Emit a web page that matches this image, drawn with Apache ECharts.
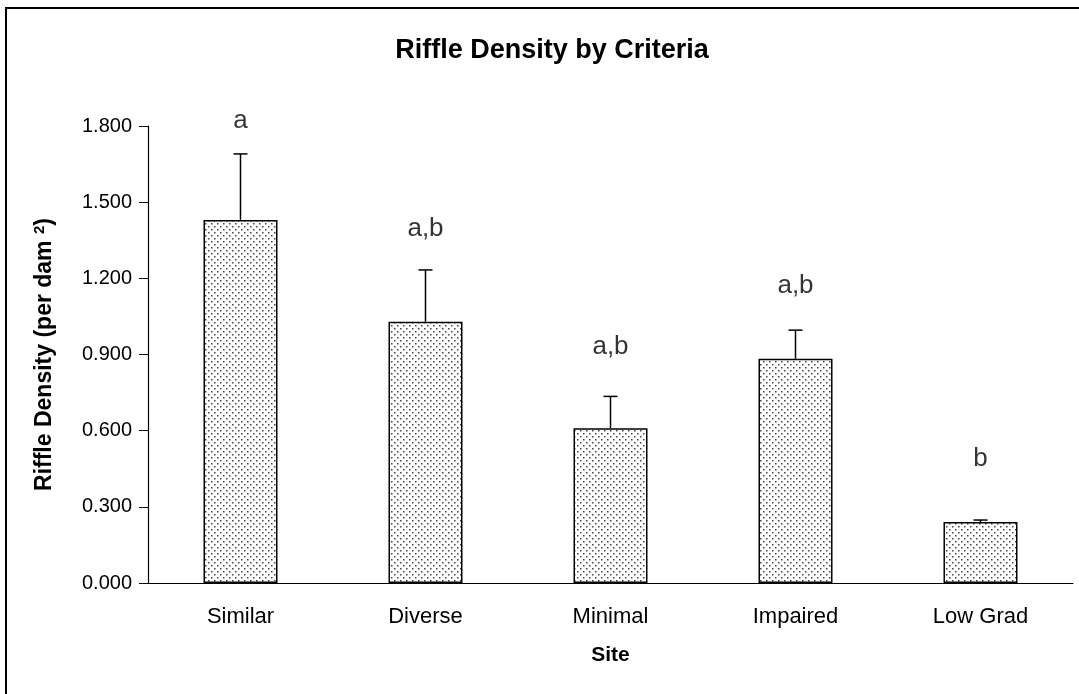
<!DOCTYPE html>
<html>
<head>
<meta charset="utf-8">
<script src="https://cdn.jsdelivr.net/npm/echarts@6/dist/echarts.min.js"></script>
<style>
    html, body { margin: 0; padding: 0; background: #fff; }
    #chart { width: 1079px; height: 694px; }
</style>
</head>
<body>
<div id="chart"></div>
<script>
// data
var sites = ['Similar', 'Diverse', 'Minimal', 'Impaired', 'Low Grad'];
var density = [1.430, 1.029, 0.610, 0.883, 0.240];
var upperErr = [1.690, 1.233, 0.735, 0.996, 0.248];
var letters = ['a', 'a,b', 'a,b', 'a,b', 'b'];
var letterPos = [1.820, 1.395, 0.930, 1.170, 0.490];

var FONT = '"Liberation Sans", Arial, sans-serif';

// dotted fill like the excel pattern
function dotPattern() {
    var c = document.createElement('canvas');
    c.width = 6;
    c.height = 6;
    var ctx = c.getContext('2d');
    ctx.fillStyle = '#ffffff';
    ctx.fillRect(0, 0, 6, 6);
    ctx.fillStyle = '#444444';
    ctx.fillRect(1, 1, 1.5, 1.5);
    ctx.fillRect(4, 4, 1.5, 1.5);
    return c;
}

var chart = echarts.init(document.getElementById('chart'));

var errData = [];
var letterData = [];
for (var i = 0; i < sites.length; i++) {
    errData.push([i, density[i], upperErr[i]]);
    letterData.push([i, letterPos[i]]);
}

var option = {
    backgroundColor: '#fff',
    animation: false,
    title: {
        text: 'Riffle Density by Criteria',
        left: 547,
        top: 32,
        textAlign: 'center',
        textStyle: { fontFamily: FONT, fontSize: 27, fontWeight: 'bold', color: '#000' }
    },
    graphic: [{
        type: 'rect',
        shape: { x: 6, y: 8, width: 1200, height: 800 },
        style: { fill: 'none', stroke: '#000', lineWidth: 2 },
        silent: true
    }],
    grid: { left: 148, right: 6, top: 126, bottom: 111 },
    xAxis: {
        type: 'category',
        data: sites,
        name: 'Site',
        nameLocation: 'middle',
        nameGap: 62,
        nameTextStyle: { fontFamily: FONT, fontSize: 21, fontWeight: 'bold', color: '#000' },
        axisLine: { lineStyle: { color: '#000', width: 1.2 } },
        axisTick: { length: 8, lineStyle: { color: '#000' } },
        axisLabel: { fontFamily: FONT, fontSize: 22, color: '#000', margin: 23 }
    },
    yAxis: {
        type: 'value',
        min: 0,
        max: 1.8,
        interval: 0.3,
        name: 'Riffle Density (per dam {sup|2})',
        nameLocation: 'middle',
        nameGap: 91,
        nameTextStyle: {
            fontFamily: FONT, fontSize: 23, fontWeight: 'bold', color: '#000',
            rich: {
                sup: { fontFamily: FONT, fontSize: 15, fontWeight: 'bold', color: '#000', verticalAlign: 'top', padding: [0, 0, 10, 0] }
            }
        },
        splitLine: { show: false },
        axisLine: { show: true, lineStyle: { color: '#000', width: 1.2 } },
        axisTick: { show: true, length: 9, lineStyle: { color: '#000' } },
        axisLabel: {
            fontFamily: FONT, fontSize: 20, color: '#000', margin: 16,
            formatter: function (v) { return v.toFixed(3); }
        }
    },
    series: [{
        type: 'bar',
        data: density,
        barWidth: '40%',
        itemStyle: {
            color: { image: dotPattern(), repeat: 'repeat' },
            borderColor: '#000',
            borderWidth: 1.5
        }
    }, {
        type: 'custom',
        data: errData,
        z: 1,
        renderItem: function (params, api) {
            var base = api.coord([api.value(0), api.value(1)]);
            var top = api.coord([api.value(0), api.value(2)]);
            var half = 7;
            return {
                type: 'group',
                children: [{
                    type: 'line',
                    shape: { x1: base[0], y1: base[1], x2: top[0], y2: top[1] },
                    style: { stroke: '#000', lineWidth: 1.5 }
                }, {
                    type: 'line',
                    shape: { x1: top[0] - half, y1: top[1], x2: top[0] + half, y2: top[1] },
                    style: { stroke: '#000', lineWidth: 1.5 }
                }]
            };
        }
    }, {
        type: 'scatter',
        data: letterData,
        clip: false,
        symbolSize: 1,
        itemStyle: { color: 'rgba(0,0,0,0)' },
        label: {
            show: true,
            position: 'inside',
            fontFamily: FONT,
            fontSize: 26,
            color: '#000',
            textBorderWidth: 0,
            formatter: function (p) { return letters[p.dataIndex]; }
        }
    }]
};

chart.setOption(option);
</script>
</body>
</html>
